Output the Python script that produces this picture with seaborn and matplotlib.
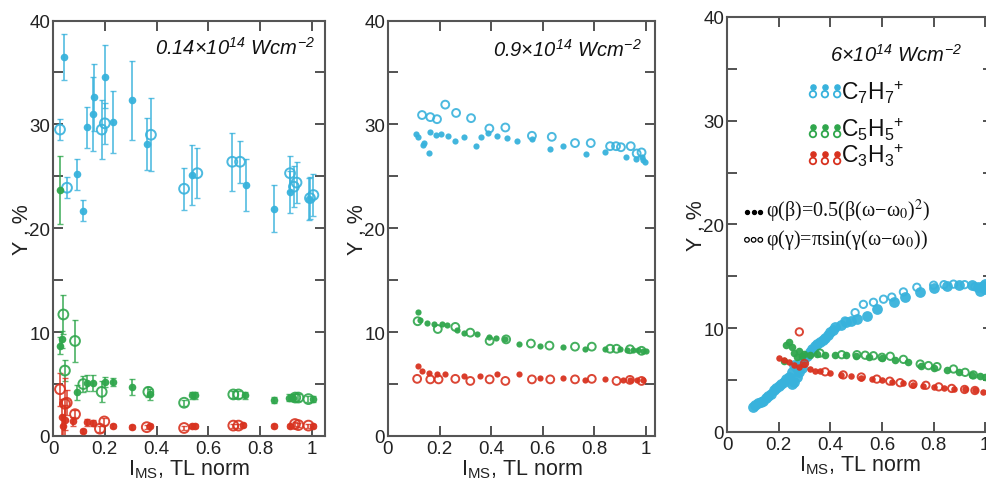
import numpy as np
import pandas as pd
import matplotlib
matplotlib.use("Agg")
import matplotlib.pyplot as plt
import seaborn as sns

# ---- data: panel 1 (0.14e14 W/cm2), with error bars
p1_c7_fill_x = [0.042, 0.093, 0.115, 0.133, 0.155, 0.158, 0.200, 0.232, 0.306, 0.362, 0.538, 0.744, 0.854, 0.915, 0.990]
p1_c7_fill_y = [36.5, 25.2, 21.7, 29.7, 31.0, 32.6, 34.6, 30.2, 32.3, 28.1, 25.1, 24.2, 21.9, 23.5, 22.8]
p1_c7_fill_e = [2.2, 1.5, 1.0, 2.0, 3.6, 3.2, 3.0, 3.0, 3.8, 2.5, 2.9, 2.5, 2.3, 2.0, 2.0]
p1_c7_open_x = [0.027, 0.054, 0.188, 0.200, 0.378, 0.506, 0.557, 0.692, 0.722, 0.915, 0.930, 0.940, 0.992, 1.005]
p1_c7_open_y = [29.5, 23.9, 29.5, 30.1, 29.0, 23.8, 25.3, 26.4, 26.4, 25.3, 24.0, 24.4, 22.9, 23.2]
p1_c7_open_e = [1.0, 1.0, 2.8, 2.0, 3.5, 2.0, 2.4, 2.8, 2.0, 1.7, 2.0, 2.0, 2.0, 2.0]

p1_c5_fill_x = [0.027, 0.027, 0.035, 0.094, 0.130, 0.156, 0.200, 0.233, 0.306, 0.375, 0.535, 0.548, 0.741, 0.854, 0.910, 0.925, 1.005]
p1_c5_fill_y = [23.7, 8.7, 9.3, 4.2, 5.1, 5.1, 5.2, 5.2, 4.7, 4.0, 3.9, 3.9, 3.9, 3.5, 3.7, 3.7, 3.55]
p1_c5_fill_e = [3.3, 0.8, 0.8, 0.7, 0.8, 0.8, 0.5, 0.4, 0.8, 0.5, 0.3, 0.3, 0.3, 0.3, 0.3, 0.3, 0.3]
p1_c5_open_x = [0.040, 0.046, 0.085, 0.117, 0.188, 0.368, 0.506, 0.696, 0.716, 0.935, 0.947, 0.986]
p1_c5_open_y = [11.7, 6.3, 9.15, 5.0, 4.25, 4.25, 3.2, 4.0, 4.0, 3.7, 3.7, 3.55]
p1_c5_open_e = [1.9, 1.0, 2.0, 0.8, 1.0, 0.5, 0.3, 0.3, 0.3, 0.3, 0.3, 0.3]

p1_c3_fill_x = [0.035, 0.040, 0.046, 0.078, 0.117, 0.130, 0.156, 0.233, 0.306, 0.375, 0.535, 0.548, 0.735, 0.854, 0.915, 1.005]
p1_c3_fill_y = [1.8, 1.0, 1.5, 1.4, 0.5, 1.3, 1.25, 1.0, 0.85, 1.0, 1.0, 1.0, 1.05, 1.0, 0.93, 1.0]
p1_c3_fill_e = [1.8, 1.0, 1.5, 0.4, 0.2, 0.3, 0.3, 0.2, 0.2, 0.2, 0.2, 0.2, 0.2, 0.2, 0.2, 0.2]
p1_c3_open_x = [0.027, 0.046, 0.053, 0.085, 0.181, 0.198, 0.362, 0.506, 0.696, 0.716, 0.934, 0.947, 0.986]
p1_c3_open_y = [4.5, 3.1, 3.2, 2.1, 0.7, 1.4, 0.85, 0.77, 1.0, 1.0, 1.15, 1.05, 1.0]
p1_c3_open_e = [1.6, 2.5, 1.2, 0.4, 0.3, 0.3, 0.2, 0.2, 0.2, 0.2, 0.2, 0.2, 0.2]

# ---- panel 2 (0.9e14 W/cm2)
p2_c7_fill_x = [0.110, 0.115, 0.136, 0.139, 0.158, 0.164, 0.188, 0.207, 0.231, 0.261, 0.293, 0.341, 0.360, 0.386, 0.422,
                0.461, 0.502, 0.558, 0.629, 0.680, 0.768, 0.841, 0.921, 0.961, 0.983, 0.990, 0.996]
p2_c7_fill_y = [29.1, 28.8, 28.0, 28.2, 27.2, 29.3, 29.0, 29.05, 28.9, 28.4, 28.8, 27.9, 28.8, 29.2, 28.9,
                28.7, 28.4, 28.6, 27.6, 27.9, 27.1, 27.3, 26.9, 26.7, 26.9, 26.6, 26.4]
p2_c7_open_x = [0.132, 0.164, 0.190, 0.222, 0.264, 0.322, 0.393, 0.455, 0.558, 0.635, 0.725, 0.786, 0.861, 0.884,
                0.903, 0.941, 0.964, 0.983]
p2_c7_open_y = [30.9, 30.7, 30.5, 31.9, 31.1, 30.6, 29.6, 29.7, 28.9, 28.8, 28.2, 28.2, 27.9, 27.9,
                27.8, 27.9, 27.2, 27.3]

p2_c5_fill_x = [0.115, 0.126, 0.152, 0.177, 0.210, 0.229, 0.268, 0.293, 0.345, 0.390, 0.420, 0.455, 0.506, 0.590,
                0.680, 0.764, 0.841, 0.900, 0.925, 0.950, 0.970, 0.990, 1.000]
p2_c5_fill_y = [11.9, 11.2, 10.9, 10.75, 10.75, 10.65, 10.2, 9.95, 9.8, 9.55, 9.4, 9.3, 8.9, 8.7,
                8.6, 8.4, 8.4, 8.35, 8.3, 8.3, 8.25, 8.2, 8.15]
p2_c5_open_x = [0.115, 0.193, 0.261, 0.319, 0.394, 0.458, 0.554, 0.626, 0.725, 0.790, 0.861, 0.886, 0.938, 0.983]
p2_c5_open_y = [11.05, 10.3, 10.5, 9.95, 9.15, 9.3, 8.9, 8.7, 8.6, 8.6, 8.4, 8.4, 8.35, 8.2]

p2_c3_fill_x = [0.115, 0.132, 0.158, 0.190, 0.222, 0.293, 0.358, 0.422, 0.506, 0.590, 0.680, 0.764, 0.841,
                0.910, 0.940, 0.965, 0.990]
p2_c3_fill_y = [6.7, 6.25, 6.1, 5.95, 5.95, 5.8, 5.8, 5.95, 5.95, 5.6, 5.6, 5.4, 5.45,
                5.4, 5.4, 5.35, 5.4]
p2_c3_open_x = [0.113, 0.164, 0.196, 0.261, 0.319, 0.394, 0.455, 0.558, 0.629, 0.725, 0.790, 0.886, 0.938, 0.983]
p2_c3_open_y = [5.5, 5.45, 5.45, 5.5, 5.3, 5.45, 5.3, 5.45, 5.45, 5.45, 5.5, 5.3, 5.4, 5.3]

# ---- panel 3 (6e14 W/cm2)
p3_c7_fill_x = [0.10, 0.11, 0.12, 0.13, 0.14, 0.15, 0.16, 0.17, 0.18, 0.19, 0.20, 0.21, 0.22, 0.23, 0.24, 0.25,
                0.25, 0.26, 0.26, 0.27, 0.27, 0.28, 0.28, 0.29, 0.30, 0.31, 0.32, 0.33, 0.34, 0.35, 0.36, 0.37,
                0.38, 0.39, 0.40, 0.41, 0.42, 0.44, 0.46, 0.48, 0.503, 0.541, 0.58, 0.645, 0.69, 0.748, 0.80,
                0.85, 0.90, 0.95, 0.97, 0.98, 0.99, 1.00, 1.00]
p3_c7_fill_y = [2.4, 2.6, 2.8, 2.9, 3.0, 3.3, 3.5, 3.7, 4.0, 4.2, 4.4, 4.6, 4.8, 5.1, 5.3, 4.6,
                5.8, 4.8, 6.5, 5.3, 6.2, 5.8, 6.6, 6.2, 7.0, 7.3, 7.7, 8.0, 8.26, 8.5, 8.7, 8.9,
                9.1, 9.35, 9.6, 9.85, 10.1, 10.3, 10.6, 10.7, 10.9, 11.2, 11.85, 12.5, 13.0, 13.45, 13.9,
                14.1, 14.2, 14.2, 14.0, 13.6, 14.1, 13.8, 14.3]
p3_c7_open_x = [0.457, 0.496, 0.528, 0.567, 0.606, 0.638, 0.683, 0.735, 0.800, 0.840, 0.877, 0.920, 0.960]
p3_c7_open_y = [10.7, 11.5, 12.3, 12.5, 12.8, 13.0, 13.5, 13.95, 14.15, 14.2, 14.25, 14.2, 14.0]

p3_c5_fill_x = [0.22, 0.23, 0.24, 0.25, 0.26, 0.27, 0.28, 0.29, 0.30, 0.32, 0.35, 0.38, 0.42, 0.46, 0.50,
                0.55, 0.60, 0.65, 0.70, 0.75, 0.80, 0.85, 0.90, 0.95, 0.98, 1.00]
p3_c5_fill_y = [6.8, 8.4, 8.7, 8.2, 7.6, 7.2, 7.8, 7.3, 7.5, 7.4, 7.5, 7.45, 7.4, 7.4, 7.35,
                7.25, 7.1, 6.9, 6.7, 6.4, 6.2, 6.0, 5.8, 5.5, 5.35, 5.3]
p3_c5_open_x = [0.36, 0.444, 0.503, 0.535, 0.567, 0.600, 0.632, 0.683, 0.748, 0.780, 0.813, 0.877, 0.922, 0.954]
p3_c5_open_y = [7.6, 7.45, 7.45, 7.4, 7.35, 7.2, 7.3, 7.0, 6.55, 6.4, 6.3, 6.07, 5.75, 5.5]

p3_c3_fill_x = [0.20, 0.22, 0.24, 0.26, 0.28, 0.30, 0.32, 0.34, 0.36, 0.40, 0.44, 0.48, 0.52, 0.56, 0.60,
                0.64, 0.68, 0.72, 0.76, 0.80, 0.84, 0.88, 0.92, 0.96, 0.99]
p3_c3_fill_y = [7.1, 6.9, 6.7, 6.5, 6.3, 6.55, 6.1, 5.9, 5.85, 5.65, 5.5, 5.35, 5.25, 5.1, 5.0,
                4.85, 4.7, 4.55, 4.45, 4.35, 4.25, 4.15, 4.1, 4.0, 3.9]
p3_c3_open_x = [0.28, 0.30, 0.38, 0.45, 0.52, 0.58, 0.63, 0.67, 0.72, 0.77, 0.82, 0.87, 0.92, 0.96]
p3_c3_open_y = [9.65, 6.6, 5.8, 5.5, 5.3, 5.1, 4.9, 4.75, 4.6, 4.5, 4.35, 4.2, 4.1, 4.0]

# default math text = italic (titles); \mathsf = upright (labels)
titles = [r"$0.14{\times}10^{14}\ Wcm^{-2}$",
          r"$0.9{\times}10^{14}\ Wcm^{-2}$",
          r"$6{\times}10^{14}\ Wcm^{-2}$"]
ion_labels = [r"C$_\mathsf{7}$H$_\mathsf{7}$$^\mathsf{+}$",
              r"C$_\mathsf{5}$H$_\mathsf{5}$$^\mathsf{+}$",
              r"C$_\mathsf{3}$H$_\mathsf{3}$$^\mathsf{+}$"]
model_labels = ["φ(β)=0.5(β(ω−ω$_0$)$^2$)", "φ(γ)=πsin(γ(ω−ω$_0$))"]
xlabel = r"I$_{\mathsf{MS}}$, TL norm"
ylabel = "Y , %"
xticks = [0, 0.2, 0.4, 0.6, 0.8, 1.0]
xticklabels = ["0", "0.2", "0.4", "0.6", "0.8", "1"]
yticks = [0, 5, 10, 15, 20, 25, 30, 35, 40]
yticklabels = ["0", "", "10", "", "20", "", "30", "", "40"]

cyan = "#38b2dc"
green = "#2fa64c"
red = "#d8321f"

sns.set_theme(style="ticks")
plt.rcParams["font.family"] = ["Liberation Sans", "DejaVu Sans"]
plt.rcParams["mathtext.fontset"] = "custom"
plt.rcParams["mathtext.rm"] = "Liberation Sans:italic"
plt.rcParams["mathtext.it"] = "Liberation Sans:italic"
plt.rcParams["mathtext.sf"] = "Liberation Sans"
plt.rcParams["mathtext.bf"] = "Liberation Sans:bold"

fig = plt.figure(figsize=(9.87, 4.81), dpi=100)
ax1 = fig.add_axes([0.0537, 0.0915, 0.2756, 0.8638])
ax2 = fig.add_axes([0.3931, 0.0915, 0.2705, 0.8638])
ax3 = fig.add_axes([0.7366, 0.0998, 0.2695, 0.8628])


def pts(ax, x, y, color, filled, size):
    df = pd.DataFrame({"x": x, "y": y})
    if filled:
        sns.scatterplot(data=df, x="x", y="y", ax=ax, color=color, s=size, marker="o",
                        edgecolor=color, linewidth=0, alpha=0.95, zorder=3)
    else:
        sns.scatterplot(data=df, x="x", y="y", ax=ax, s=size, marker="o",
                        facecolor="none", edgecolor=color, linewidth=1.4, alpha=0.9, zorder=3)


def ebars(ax, x, y, e, color):
    ax.errorbar(x, y, yerr=e, fmt="none", ecolor=color, elinewidth=1.3, capsize=2.5,
                capthick=1.0, alpha=0.8, zorder=2)


# panel 1
ebars(ax1, p1_c7_fill_x, p1_c7_fill_y, p1_c7_fill_e, cyan)
ebars(ax1, p1_c7_open_x, p1_c7_open_y, p1_c7_open_e, cyan)
ebars(ax1, p1_c5_fill_x, p1_c5_fill_y, p1_c5_fill_e, green)
ebars(ax1, p1_c5_open_x, p1_c5_open_y, p1_c5_open_e, green)
ebars(ax1, p1_c3_fill_x, p1_c3_fill_y, p1_c3_fill_e, red)
ebars(ax1, p1_c3_open_x, p1_c3_open_y, p1_c3_open_e, red)
pts(ax1, p1_c7_fill_x, p1_c7_fill_y, cyan, True, 30)
pts(ax1, p1_c7_open_x, p1_c7_open_y, cyan, False, 50)
pts(ax1, p1_c5_fill_x, p1_c5_fill_y, green, True, 30)
pts(ax1, p1_c5_open_x, p1_c5_open_y, green, False, 50)
pts(ax1, p1_c3_fill_x, p1_c3_fill_y, red, True, 30)
pts(ax1, p1_c3_open_x, p1_c3_open_y, red, False, 50)

# panel 2
pts(ax2, p2_c7_fill_x, p2_c7_fill_y, cyan, True, 20)
pts(ax2, p2_c7_open_x, p2_c7_open_y, cyan, False, 32)
pts(ax2, p2_c5_fill_x, p2_c5_fill_y, green, True, 20)
pts(ax2, p2_c5_open_x, p2_c5_open_y, green, False, 32)
pts(ax2, p2_c3_fill_x, p2_c3_fill_y, red, True, 20)
pts(ax2, p2_c3_open_x, p2_c3_open_y, red, False, 32)

# panel 3
pts(ax3, p3_c7_fill_x, p3_c7_fill_y, cyan, True, 60)
pts(ax3, p3_c7_open_x, p3_c7_open_y, cyan, False, 28)
pts(ax3, p3_c5_fill_x, p3_c5_fill_y, green, True, 30)
pts(ax3, p3_c5_open_x, p3_c5_open_y, green, False, 28)
pts(ax3, p3_c3_fill_x, p3_c3_fill_y, red, True, 22)
pts(ax3, p3_c3_open_x, p3_c3_open_y, red, False, 28)

for ax, xmax, title, tx, ty in [(ax1, 1.05, titles[0], 0.963, 0.92),
                               (ax2, 1.035, titles[1], 0.95, 0.915),
                               (ax3, 1.03, titles[2], 0.882, 0.894)]:
    ax.set_xlim(0, xmax)
    ax.set_ylim(0, 40)
    ax.set_xticks(xticks)
    ax.set_xticklabels(xticklabels)
    ax.set_yticks(yticks)
    ax.set_yticklabels(yticklabels)
    ax.tick_params(direction="in", length=7, width=1.3, color="#444444", top=True, right=True,
                   labelsize=13.5, pad=2, labelcolor="#222222")
    ax.tick_params(axis="x", pad=3)
    for sp in ax.spines.values():
        sp.set_visible(True)
        sp.set_linewidth(1.5)
        sp.set_color("#555555")
    ax.set_xlabel(xlabel, fontsize=15.5, color="#222222")
    ax.set_ylabel(ylabel, fontsize=15.5, color="#222222")
    ax.xaxis.set_label_coords(0.5, -0.052)
    ax.yaxis.set_label_coords(-0.075, 0.5)
    ax.text(tx, ty, title, transform=ax.transAxes, ha="right", va="baseline",
            fontsize=14.5, color="#111111")

# legend of panel 3
leg_rows = [(0.831, 0.814, 0.802), (0.735, 0.718, 0.713), (0.67, 0.653, 0.651)]
for (yf, yo, yt), col, lab in zip(leg_rows, [cyan, green, red], ion_labels):
    lx = [0.323, 0.368, 0.414]
    ax3.scatter(lx, [yf] * 3, s=14, color=col, transform=ax3.transAxes, clip_on=False)
    ax3.scatter(lx, [yo] * 3, s=22, facecolor="none", edgecolor=col, linewidth=1.3,
                transform=ax3.transAxes, clip_on=False)
    ax3.text(0.428, yt, lab, transform=ax3.transAxes, fontsize=16.5, color="#111111", va="baseline")

bx = [0.075, 0.100, 0.125]
ax3.scatter(bx, [0.53] * 3, s=8, color="black", transform=ax3.transAxes)
ax3.scatter(bx, [0.463] * 3, s=11, facecolor="none", edgecolor="black", linewidth=0.9,
            transform=ax3.transAxes)
ax3.text(0.148, 0.52, model_labels[0], transform=ax3.transAxes, fontsize=14.5,
         family=["Liberation Serif", "DejaVu Serif"], math_fontfamily="stix", va="baseline", color="#111111")
ax3.text(0.148, 0.453, model_labels[1], transform=ax3.transAxes, fontsize=14.5,
         family=["Liberation Serif", "DejaVu Serif"], math_fontfamily="stix", va="baseline", color="#111111")

fig.savefig("out.png", dpi=100)
